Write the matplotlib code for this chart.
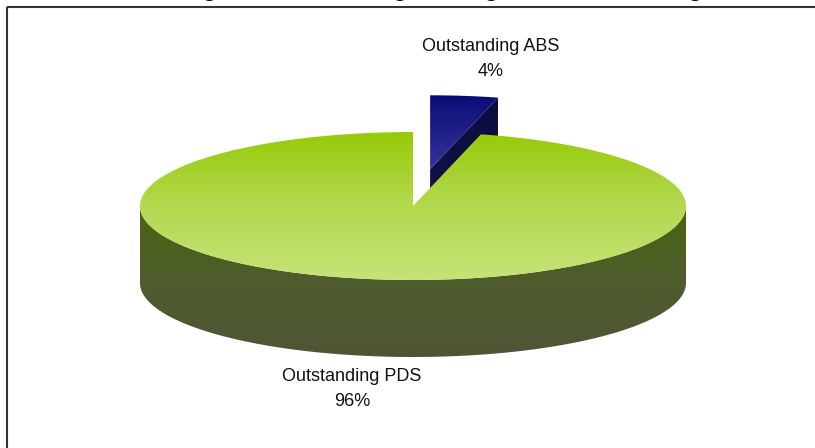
"""
3-D style pie of outstanding ABS versus outstanding PDS.
"""
import matplotlib

matplotlib.use("Agg", force=True)
import matplotlib.pyplot as plt
import numpy as np
from matplotlib.colors import LinearSegmentedColormap
from matplotlib.patches import Polygon, Rectangle

plt.rcParams["font.family"] = ["Liberation Sans", "DejaVu Sans"]

TITLE = "Percentage of Outstanding ABS against Outstanding PDS"
names = ["Outstanding ABS", "Outstanding PDS"]
values = [4, 96]

W, H = 815, 448
CX, CY = 413, 206        # centre of the top ellipse (pixels)
RX, RY = 273, 74         # ellipse radii
DEPTH = 77               # height of the cylinder wall
EXPLODE = 0.50           # offset of the small slice, in radius units


def ellipse_pt(theta_deg, dx=0.0, dy=0.0):
    t = np.radians(theta_deg)
    return np.column_stack([CX + dx + RX * np.cos(t), CY + dy - RY * np.sin(t)])


def gradient_fill(ax, verts, colors, zorder):
    verts = np.asarray(verts)
    poly = Polygon(verts, closed=True, facecolor="none", edgecolor="none")
    ax.add_patch(poly)
    x0, x1 = verts[:, 0].min(), verts[:, 0].max()
    y0, y1 = verts[:, 1].min(), verts[:, 1].max()
    cmap = LinearSegmentedColormap.from_list("g", colors)
    grad = np.linspace(0, 1, 256)[:, None]
    im = ax.imshow(grad, cmap=cmap, extent=(x0, x1, y1, y0), aspect="auto",
                   interpolation="bilinear", zorder=zorder)
    im.set_clip_path(poly)


fig = plt.figure(figsize=(W / 100, H / 100), dpi=100)
ax = fig.add_axes([0, 0, 1, 1])

total = sum(values)
abs_span = 360.0 * values[0] / total
start = 90.0 - abs_span  # ABS runs clockwise from 12 o'clock

# exploded ABS slice
mid = np.radians(90.0 - abs_span / 2)
ox, oy = RX * np.cos(mid) * EXPLODE, -RY * np.sin(mid) * EXPLODE
c_abs = np.array([[CX + ox, CY + oy]])
rim = ellipse_pt(start, ox, oy)
cut_face = np.vstack([c_abs, rim, rim + [0, DEPTH], c_abs + [0, DEPTH]])
gradient_fill(ax, cut_face, ["#0b0b3f", "#16164d"], 1)
arc = ellipse_pt(np.linspace(start, 90.0, 40), ox, oy)
gradient_fill(ax, np.vstack([c_abs, arc]), ["#0c0c78", "#34349c"], 2)

# PDS: front wall, then top face
front = ellipse_pt(np.linspace(180, 360, 200))
wall = np.vstack([front, (front + [0, DEPTH])[::-1]])
gradient_fill(ax, wall, ["#4a6510", "#4e5c2c", "#4f5537"], 3)
arc = ellipse_pt(np.linspace(90.0, start + 360.0, 400))
gradient_fill(ax, np.vstack([[[CX, CY]], arc]), ["#97ca08", "#b3d850", "#c7e377"], 4)

# data labels
label_pos = [(491, 59), (352, 389)]
for name, val, (lx, ly) in zip(names, values, label_pos):
    ax.text(lx, ly, f"{name}\n{val}%", ha="center", va="center",
            fontsize=13, linespacing=1.6, color="#111111", zorder=6)

# chart title sits mostly above the visible area
ax.text(430, -4, TITLE, ha="center", va="baseline", fontsize=17.3,
        fontweight="bold", color="#000000", zorder=6)

# chart area border
ax.add_patch(Rectangle((7, 7), 1000, 1000, fill=False, edgecolor="#333333",
                       linewidth=1.5, zorder=7))

ax.set_xlim(0, W)
ax.set_ylim(H, 0)
ax.axis("off")
fig.savefig("out.png", dpi=100)
